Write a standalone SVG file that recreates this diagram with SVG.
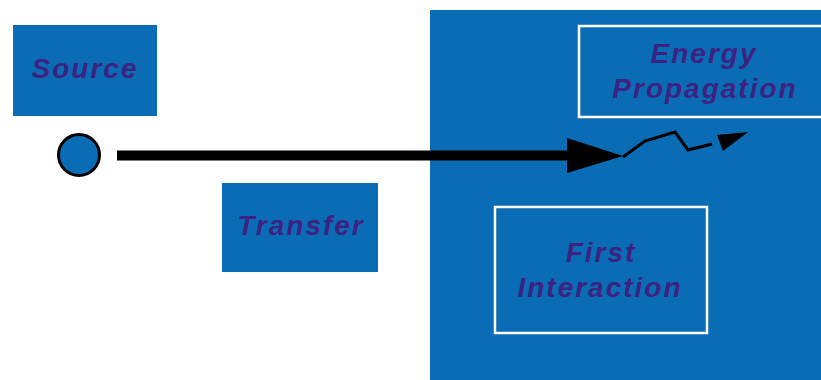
<svg xmlns="http://www.w3.org/2000/svg" width="821" height="380" viewBox="0 0 821 380">
<style>
.box{fill:#0a6cb5}
.inner{fill:#0a6cb5;stroke:#ffffff;stroke-width:2.5}
.lbl{font-family:"Liberation Sans",Arial,sans-serif;font-weight:bold;font-style:italic;font-size:28px;letter-spacing:2px;fill:#3c2382;text-anchor:middle}
</style>
<rect width="821" height="380" fill="#ffffff"/>
<g id="region">
<rect class="box" x="430" y="10" width="395" height="375"/>
</g>
<g id="source">
<rect class="box" x="13" y="25" width="144" height="91"/>
<text class="lbl" x="85" y="78">Source</text>
</g>
<g id="source-point">
<circle cx="79" cy="155" r="20.5" fill="#0a6cb5" stroke="#000000" stroke-width="3"/>
</g>
<g id="transfer">
<rect class="box" x="222" y="183" width="156" height="89"/>
<text class="lbl" x="301" y="235">Transfer</text>
</g>
<g id="energy-propagation">
<rect class="inner" x="579" y="26" width="250" height="91"/>
<text class="lbl" x="704" y="63">Energy</text>
<text class="lbl" x="705" y="98">Propagation</text>
</g>
<g id="first-interaction">
<rect class="inner" x="495" y="207" width="212" height="126"/>
<text class="lbl" x="601" y="262">First</text>
<text class="lbl" x="600" y="297">Interaction</text>
</g>
<g id="connectors">
<line x1="117" y1="155.5" x2="572" y2="155.5" stroke="#000000" stroke-width="10"/>
<polygon points="567,138 623,156 567,173" fill="#000000"/>
<polyline points="623,157 645,141 675,132 688,150 712,144" fill="none" stroke="#000000" stroke-width="3" stroke-linejoin="miter"/>
<polygon points="717,135 748,132 723,151" fill="#000000"/>
</g>
</svg>
